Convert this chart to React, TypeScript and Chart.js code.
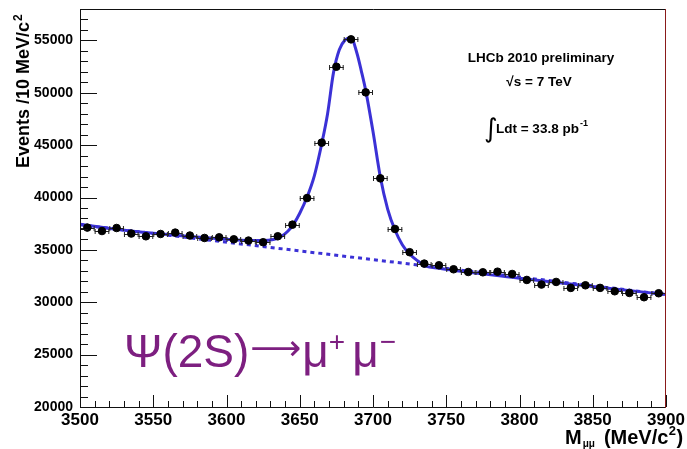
import React, { useEffect, useRef } from "react";
import { Chart, registerables } from "chart.js";

Chart.register(...registerables);

// ---- data ----
const MASS = [
  3505, 3515, 3525, 3535, 3545, 3555, 3565, 3575, 3585, 3595,
  3605, 3615, 3625, 3635, 3645, 3655, 3665, 3675, 3685, 3695,
  3705, 3715, 3725, 3735, 3745, 3755, 3765, 3775, 3785, 3795,
  3805, 3815, 3825, 3835, 3845, 3855, 3865, 3875, 3885, 3895,
];
const EVENTS = [
  37130, 36800, 37090, 36560, 36300, 36520, 36650, 36370, 36140, 36200,
  36010, 35890, 35730, 36300, 37410, 39950, 45240, 52490, 55100, 50040,
  41830, 37000, 34780, 33690, 33530, 33150, 32890, 32860, 32920, 32700,
  32130, 31690, 31940, 31370, 31620, 31370, 31050, 30890, 30480, 30860,
];
const BIN_HALF_WIDTH = 5;

const FIT_MASS = [
  3500, 3525, 3550, 3575, 3600, 3615, 3625, 3632, 3637, 3642,
  3646, 3650, 3655, 3660, 3665, 3669, 3673, 3677, 3681, 3685,
  3689, 3692, 3695, 3700, 3705, 3710, 3715, 3720, 3725, 3730,
  3736, 3745, 3760, 3800, 3850, 3900,
];
const FIT_EVENTS = [
  37450, 36980, 36600, 36280, 36020, 35900, 35900, 36000, 36240, 36800,
  37510, 38500, 40050, 42100, 45140, 48000, 51900, 54100, 55050, 55260,
  53800, 52100, 50230, 46300, 41960, 38900, 36900, 35500, 34600, 34000,
  33450, 33250, 32950, 32300, 31500, 30740,
];

const BKG_MASS = [3500, 3700, 3900];
const BKG_EVENTS = [37400, 34070, 30740];

const X_TICKS = [3500, 3550, 3600, 3650, 3700, 3750, 3800, 3850, 3900];
const Y_TICKS = [20000, 25000, 30000, 35000, 40000, 45000, 50000, 55000];
const X_MIN = 3500;
const X_MAX = 3900;
const X_MINOR = 10;
const Y_MIN = 20000;
const Y_MAX = 58000;
const Y_MINOR = 1000;

const BLUE = "#3b31d6";
const PURPLE = "#7d1f80";
const FONT = '"Liberation Sans", Arial, Helvetica, sans-serif';

function pts(xs: number[], ys: number[]) {
  return xs.map((x, i) => ({ x, y: ys[i] }));
}

const hepPlugin = {
  id: "hepDecor",
  beforeDatasetDraw(chart: any, args: any) {
    if (args.index !== 0) return;
    const { ctx } = chart;
    const x = chart.scales.x;
    const y = chart.scales.y;
    ctx.save();
    ctx.strokeStyle = "#222";
    ctx.lineWidth = 1;
    MASS.forEach((m, i) => {
      const x0 = x.getPixelForValue(m - BIN_HALF_WIDTH);
      const x1 = x.getPixelForValue(m + BIN_HALF_WIDTH);
      const py = Math.round(y.getPixelForValue(EVENTS[i])) + 0.5;
      ctx.beginPath();
      ctx.moveTo(x0, py);
      ctx.lineTo(x1, py);
      ctx.moveTo(x0 + 0.5, py - 2.5);
      ctx.lineTo(x0 + 0.5, py + 2.5);
      ctx.moveTo(x1 - 0.5, py - 2.5);
      ctx.lineTo(x1 - 0.5, py + 2.5);
      ctx.stroke();
    });
    ctx.restore();
  },
  afterDraw(chart: any) {
    const { ctx, chartArea } = chart;
    const x = chart.scales.x;
    const y = chart.scales.y;
    const { left, right, top, bottom } = chartArea;
    ctx.save();
    // frame
    ctx.lineWidth = 1;
    ctx.strokeStyle = "#111";
    ctx.beginPath();
    ctx.moveTo(left + 0.5, top + 0.5);
    ctx.lineTo(right, top + 0.5);
    ctx.moveTo(left + 0.5, top);
    ctx.lineTo(left + 0.5, bottom + 0.5);
    ctx.lineTo(right, bottom + 0.5);
    ctx.stroke();
    ctx.strokeStyle = "#8a1a1a";
    ctx.beginPath();
    ctx.moveTo(right - 0.5, top);
    ctx.lineTo(right - 0.5, bottom + 1);
    ctx.stroke();

    // ticks (inside)
    ctx.strokeStyle = "#111";
    ctx.beginPath();
    for (let v = Y_MIN; v <= Y_MAX; v += Y_MINOR) {
      const py = Math.round(y.getPixelForValue(v)) + 0.5;
      const len = Y_TICKS.includes(v) ? 17 : 8;
      ctx.moveTo(left, py);
      ctx.lineTo(left + len, py);
    }
    for (let v = X_MIN; v <= X_MAX; v += X_MINOR) {
      const px = Math.round(x.getPixelForValue(v)) + 0.5;
      const len = X_TICKS.includes(v) ? 12 : 6;
      ctx.moveTo(px, bottom);
      ctx.lineTo(px, bottom - len);
    }
    ctx.stroke();

    ctx.fillStyle = "#000";
    ctx.textBaseline = "alphabetic";

    // y title (rotated)
    ctx.save();
    ctx.translate(29, 168);
    ctx.rotate(-Math.PI / 2);
    ctx.font = `bold 18px ${FONT}`;
    ctx.textAlign = "left";
    const yt = "Events /10 MeV/c";
    ctx.fillText(yt, 0, 0);
    const ytw = ctx.measureText(yt).width;
    ctx.font = `bold 12px ${FONT}`;
    ctx.fillText("2", ytw + 1, -7);
    ctx.restore();

    // x title
    ctx.textAlign = "left";
    let cx = 565;
    const by = 444;
    ctx.font = `bold 20px ${FONT}`;
    ctx.fillText("M", cx, by);
    cx += ctx.measureText("M").width;
    ctx.font = `bold 10px ${FONT}`;
    ctx.fillText("μμ", cx + 1, by + 3);
    cx += ctx.measureText("μμ").width + 10;
    ctx.font = `bold 20px ${FONT}`;
    ctx.fillText("(MeV/c", cx, by);
    cx += ctx.measureText("(MeV/c").width;
    ctx.font = `bold 13px ${FONT}`;
    ctx.fillText("2", cx + 0.5, by - 9);
    cx += ctx.measureText("2").width + 1;
    ctx.font = `bold 20px ${FONT}`;
    ctx.fillText(")", cx, by);

    // annotations
    ctx.textAlign = "center";
    ctx.font = `bold 13.5px ${FONT}`;
    ctx.fillText("LHCb 2010 preliminary", 541, 62);
    ctx.fillText("√s = 7 TeV", 539, 86);
    ctx.textAlign = "left";
    ctx.font = `26px "DejaVu Sans", ${FONT}`;
    ctx.fillText("∫", 484, 137);
    ctx.font = `bold 13.5px ${FONT}`;
    const lt = "Ldt = 33.8 pb";
    ctx.fillText(lt, 496, 133);
    const ltw = ctx.measureText(lt).width;
    ctx.font = `bold 9px ${FONT}`;
    ctx.fillText("-1", 496 + ltw + 1, 126);

    // decay label
    ctx.fillStyle = PURPLE;
    let px = 124;
    const pb = 367;
    const big = `46px ${FONT}`;
    const small = `28px ${FONT}`;
    ctx.font = big;
    ctx.fillText("Ψ(2S)", px, pb);
    px += ctx.measureText("Ψ(2S)").width + 1;
    // long arrow sized to ~50px advance
    ctx.font = `48px "DejaVu Sans", ${FONT}`;
    const aw = ctx.measureText("⟶").width;
    const asz = (48 * 51) / aw;
    ctx.font = `${asz.toFixed(1)}px "DejaVu Sans", ${FONT}`;
    ctx.fillText("⟶", px, pb - (19 - 0.35 * asz));
    px += ctx.measureText("⟶").width + 1;
    const pieces: [string, string, number, number][] = [
      ["μ", big, 0, 0],
      ["+", small, -16, 7],
      ["μ", big, 0, 1],
      ["−", small, -16, 0],
    ];
    for (const [t, f, dy, gap] of pieces) {
      ctx.font = f;
      ctx.fillText(t, px, pb + dy);
      px += ctx.measureText(t).width + gap;
    }
    ctx.restore();
  },
};

export default function App() {
  const ref = useRef<HTMLCanvasElement | null>(null);
  useEffect(() => {
    if (!ref.current) return;
    const zeroPad = (s: any) => {
      s.paddingLeft = 0;
      s.paddingRight = 0;
      s.paddingTop = 0;
      s.paddingBottom = 0;
    };
    const chart = new Chart(ref.current, {
      type: "scatter",
      data: {
        datasets: [
          {
            label: "data",
            data: pts(MASS, EVENTS),
            backgroundColor: "#000",
            borderColor: "#000",
            pointRadius: 3.8,
            pointHoverRadius: 3.8,
            showLine: false,
          },
          {
            label: "fit",
            data: pts(FIT_MASS, FIT_EVENTS),
            showLine: true,
            borderColor: BLUE,
            borderWidth: 3,
            pointRadius: 0,
            cubicInterpolationMode: "monotone",
            fill: false,
          } as any,
          {
            label: "background",
            data: pts(BKG_MASS, BKG_EVENTS),
            showLine: true,
            borderColor: BLUE,
            borderWidth: 3,
            borderDash: [4, 4],
            pointRadius: 0,
            fill: false,
          },
        ],
      },
      options: {
        responsive: false,
        maintainAspectRatio: false,
        animation: false,
        events: [],
        layout: { padding: { top: 9, right: 21, left: 0, bottom: 0 } },
        plugins: { legend: { display: false }, tooltip: { enabled: false }, title: { display: false } },
        scales: {
          x: {
            type: "linear",
            min: X_MIN,
            max: X_MAX,
            grid: { display: false, drawTicks: false },
            border: { display: false },
            afterBuildTicks: (s: any) => {
              s.ticks = X_TICKS.map((v) => ({ value: v }));
            },
            ticks: {
              autoSkip: false,
              maxRotation: 0,
              padding: 3,
              color: "#000",
              font: { family: FONT, size: 17, weight: "bold" },
              callback: (v: any) => String(v),
            },
            afterFit: (s: any) => {
              s.height = 42;
              zeroPad(s);
            },
          },
          y: {
            type: "linear",
            min: Y_MIN,
            max: Y_MAX,
            grid: { display: false, drawTicks: false },
            border: { display: false },
            afterBuildTicks: (s: any) => {
              s.ticks = Y_TICKS.map((v) => ({ value: v }));
            },
            ticks: {
              autoSkip: false,
              padding: 7,
              color: "#000",
              font: { family: FONT, size: 14, weight: "bold" },
              callback: (v: any) => String(v),
            },
            afterFit: (s: any) => {
              s.width = 80;
              zeroPad(s);
            },
          },
        },
      },
      plugins: [hepPlugin],
    });
    return () => chart.destroy();
  }, []);
  return (
    <div style={{ position: "fixed", left: 0, top: 0, width: 687, height: 449, background: "#fff" }}>
      <canvas ref={ref} width={687} height={449} style={{ display: "block" }} />
    </div>
  );
}
